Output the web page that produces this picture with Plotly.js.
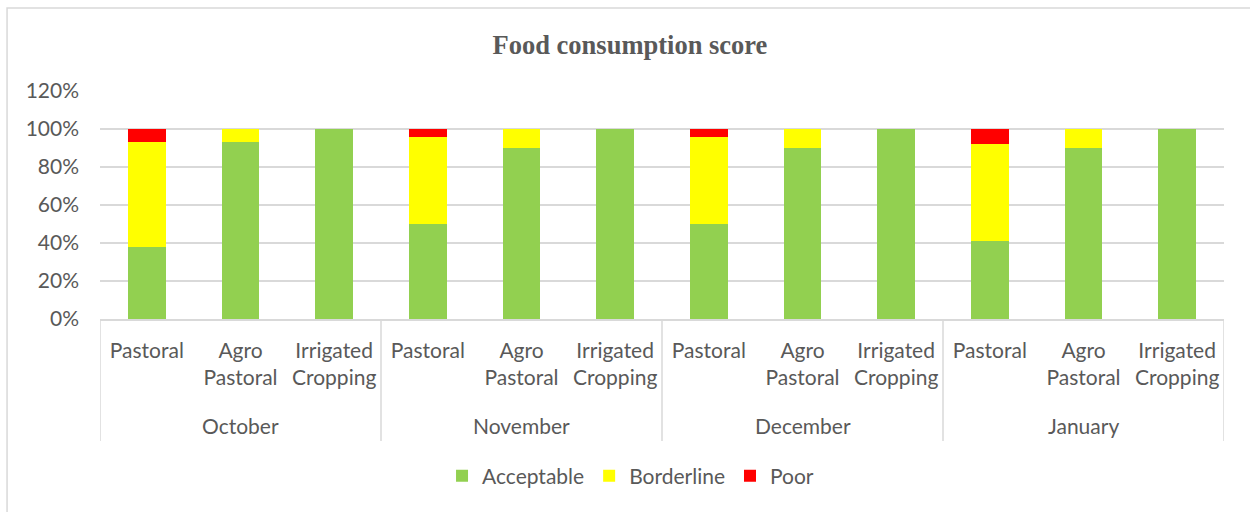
<!DOCTYPE html>
<html>
<head>
<meta charset="utf-8">
<script src="https://cdn.plot.ly/plotly-3.0.1.min.js"></script>
<style>html,body{margin:0;padding:0;background:#fff;}#chart{width:1250px;height:512px;}</style>
</head>
<body>
<div id="chart"></div>
<script>
const months = ["October", "November", "December", "January"];
const zones = ["Pastoral", "Agro<br>Pastoral", "Irrigated<br>Cropping"];
const acceptable = [0.38, 0.93, 1.00, 0.50, 0.90, 1.00, 0.50, 0.90, 1.00, 0.41, 0.90, 1.00];
const borderline = [0.55, 0.07, 0.00, 0.46, 0.10, 0.00, 0.46, 0.10, 0.00, 0.51, 0.10, 0.00];
const poor       = [0.07, 0.00, 0.00, 0.04, 0.00, 0.00, 0.04, 0.00, 0.00, 0.08, 0.00, 0.00];

// positions of each (month, zone) slot along the category axis
const xs = [], innerText = [];
months.forEach((m, mi) => zones.forEach((z, zi) => { xs.push(mi * zones.length + zi); innerText.push(z); }));

const font = "Lato, 'Open Sans', sans-serif";
const grey = "#595959";
const lineGrey = "#D9D9D9";
const fs = 21;

const traces = [
  {type: "bar", name: "Acceptable", x: xs, y: acceptable, marker: {color: "#92D050"}},
  {type: "bar", name: "Borderline", x: xs, y: borderline, marker: {color: "#FFFF00"}},
  {type: "bar", name: "Poor", x: xs, y: poor, marker: {color: "#FF0000"}}
];

const n = zones.length;
// month labels centred under their groups
const annotations = months.map((m, mi) => ({
  text: m, xref: "x", yref: "paper", x: mi * n + (n - 1) / 2, y: -0.465,
  xanchor: "center", yanchor: "middle", showarrow: false,
  font: {family: font, size: fs, color: grey}
}));
// group dividers
const shapes = [];
for (let g = 0; g <= months.length; g++) {
  shapes.push({type: "line", xref: "x", yref: "paper", x0: g * n - 0.5, x1: g * n - 0.5, y0: 0, y1: -0.535,
    line: {color: lineGrey, width: 1.5}});
}
// chart frame
shapes.push({type: "rect", xref: "paper", yref: "paper", x0: -0.0827, x1: 1.05, y0: -1.2, y1: 1.364,
  line: {color: lineGrey, width: 1.5}, fillcolor: "rgba(0,0,0,0)", layer: "below"});

const layout = {
  width: 1250, height: 512,
  barmode: "stack",
  bargap: 0.6,
  paper_bgcolor: "#fff", plot_bgcolor: "#fff",
  margin: {l: 100, r: 26, t: 91, b: 193},
  title: {text: "<b>Food consumption score</b>", font: {family: "'Liberation Serif', 'Times New Roman', serif", size: 26.5, color: grey},
    xref: "paper", x: 0.4715, xanchor: "center", yref: "container", y: 0.912, yanchor: "middle"},
  font: {family: font, color: grey, size: fs},
  xaxis: {
    range: [-0.5, months.length * n - 0.5],
    tickmode: "array", tickvals: xs, ticktext: innerText,
    showline: true, linecolor: lineGrey, linewidth: 1.5,
    tickfont: {family: font, size: fs, color: grey},
    ticks: "", showgrid: false, zeroline: false, ticklabelstandoff: 12
  },
  yaxis: {
    range: [0, 1.2], dtick: 0.2, tickformat: ".0%",
    showgrid: true, gridcolor: lineGrey, gridwidth: 1.5,
    zeroline: false,
    tickfont: {family: font, size: fs, color: grey},
    ticks: "", ticklabelstandoff: 20
  },
  legend: {orientation: "h", x: 0.472, xanchor: "center", y: -0.689, yanchor: "middle",
    font: {family: font, size: fs, color: grey}, traceorder: "normal"},
  annotations: annotations,
  shapes: shapes,
  showlegend: true
};

Plotly.newPlot("chart", traces, layout, {displayModeBar: false, staticPlot: true});
</script>
</body>
</html>
